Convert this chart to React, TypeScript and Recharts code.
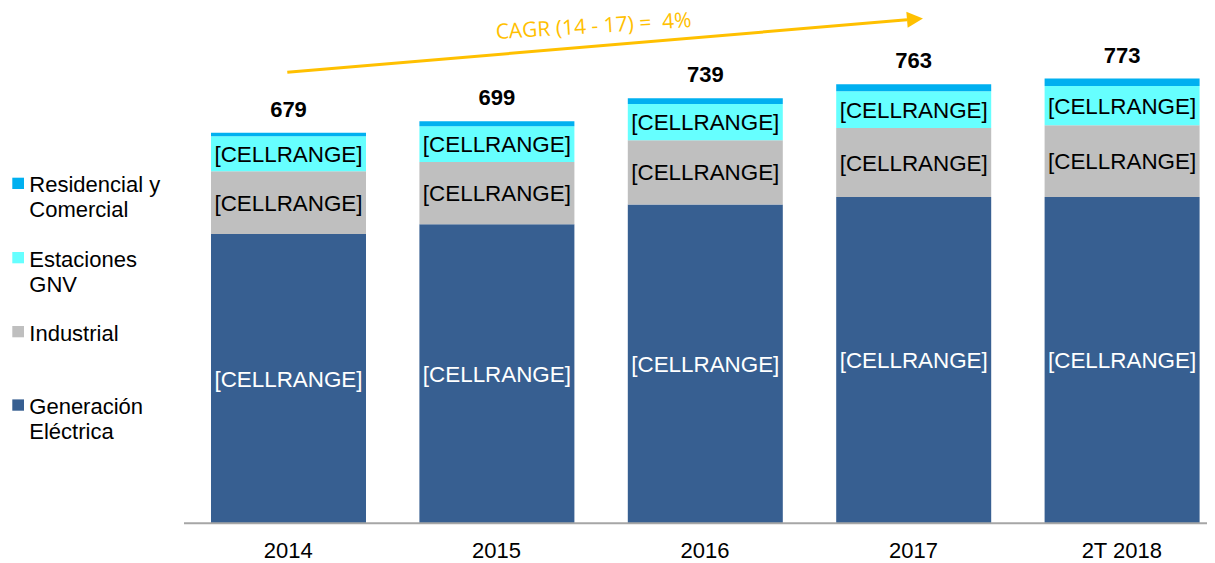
import { BarChart, Bar, XAxis, YAxis, LabelList } from 'recharts';

const years = ['2014', '2015', '2016', '2017', '2T 2018'];
const generacion = [503, 520, 554, 567, 567];
const industrial = [109, 108, 112, 120, 125];
const gnv = [61, 62, 63, 64, 68];
const residencial = [6, 9, 10, 12, 13];
const totals = [679, 699, 739, 763, 773];

const seriesLegend = [
  { name: ['Residencial y', 'Comercial'], color: '#00B0F0' },
  { name: ['Estaciones', 'GNV'], color: '#66FFFF' },
  { name: ['Industrial'], color: '#BFBFBF' },
  { name: ['Generación', 'Eléctrica'], color: '#375F91' },
];

const data = years.map((year, i) => ({
  year,
  generacion: generacion[i],
  industrial: industrial[i],
  gnv: gnv[i],
  residencial: residencial[i],
  total: totals[i],
}));

const FONT = 'Liberation Sans, Arial, Helvetica, sans-serif';

const segLabel = (color: string) => (props: any) => {
  const x = Number(props.x), y = Number(props.y);
  const w = Number(props.width), h = Number(props.height);
  return (
    <text x={x + w / 2} y={y + h / 2 + 8} textAnchor="middle" fill={color}
      fontSize={22.4} fontFamily={FONT}>[CELLRANGE]</text>
  );
};

const totalLabel = (props: any) => {
  const x = Number(props.x), y = Number(props.y), w = Number(props.width);
  return (
    <text x={x + w / 2} y={y - 16} textAnchor="middle" fill="#000"
      fontSize={22} fontWeight="bold" fontFamily={FONT}>{props.value}</text>
  );
};

const yearTick = (props: any) => (
  <text x={props.x} y={props.y + 35} textAnchor="middle" fill="#000"
    fontSize={22} fontFamily={FONT}>{props.payload.value}</text>
);

// arrow annotation (overlay coords = page - 8)
const ax1 = 279.3, ay1 = 64.3, ax2 = 899, ay2 = 11.8;
const len = Math.hypot(ax2 - ax1, ay2 - ay1);
const ux = (ax2 - ax1) / len, uy = (ay2 - ay1) / len;
const head = `${ax2 + ux * 16},${ay2 + uy * 16} ${ax2 - uy * 8},${ay2 + ux * 8} ${ax2 + uy * 8},${ay2 - ux * 8}`;

const baselines = [184.3, 258.6, 332.6, 406];

export default function App() {
  return (
    <div style={{ position: 'relative', width: 1207, height: 555, overflow: 'hidden' }}>
      <BarChart width={1220} height={555} data={data}
        margin={{ top: 26.3, right: 2, bottom: 0, left: 176 }}>
        <XAxis dataKey="year" height={39.7} tickLine={false} tickSize={0} tickMargin={0}
          axisLine={{ stroke: '#A6A6A6', strokeWidth: 2 }} tick={yearTick} />
        <YAxis hide domain={[0, 850]} />
        <Bar dataKey="generacion" stackId="a" fill="#375F91" barSize={155} isAnimationActive={false}>
          <LabelList dataKey="generacion" content={segLabel('#FFFFFF')} />
        </Bar>
        <Bar dataKey="industrial" stackId="a" fill="#BFBFBF" barSize={155} isAnimationActive={false}>
          <LabelList dataKey="industrial" content={segLabel('#000000')} />
        </Bar>
        <Bar dataKey="gnv" stackId="a" fill="#66FFFF" barSize={155} isAnimationActive={false}>
          <LabelList dataKey="gnv" content={segLabel('#000000')} />
        </Bar>
        <Bar dataKey="residencial" stackId="a" fill="#00B0F0" barSize={155} isAnimationActive={false}>
          <LabelList dataKey="total" content={totalLabel} />
        </Bar>
      </BarChart>
      <svg width={1207} height={555} style={{ position: 'absolute', left: 0, top: 0, pointerEvents: 'none' }}>
        <line x1={ax1} y1={ay1} x2={ax2} y2={ay2} stroke="#FFC000" strokeWidth={3} />
        <polygon points={head} fill="#FFC000" />
        <text x={586} y={25} textAnchor="middle" fill="#FFC000" fontSize={21}
          fontFamily="Open Sans, sans-serif" transform="rotate(-3.5 586 25)"
          style={{ whiteSpace: 'pre' }}>CAGR (14 - 17) =  4%</text>
        {seriesLegend.map((s, i) => (
          <g key={i}>
            <rect x={4.3} y={baselines[i] - 14.6} width={11.7} height={11.3} fill={s.color} />
            {s.name.map((line, j) => (
              <text key={j} x={21.3} y={baselines[i] + j * 25} fill="#000" fontSize={22}
                fontFamily={FONT}>{line}</text>
            ))}
          </g>
        ))}
      </svg>
    </div>
  );
}
